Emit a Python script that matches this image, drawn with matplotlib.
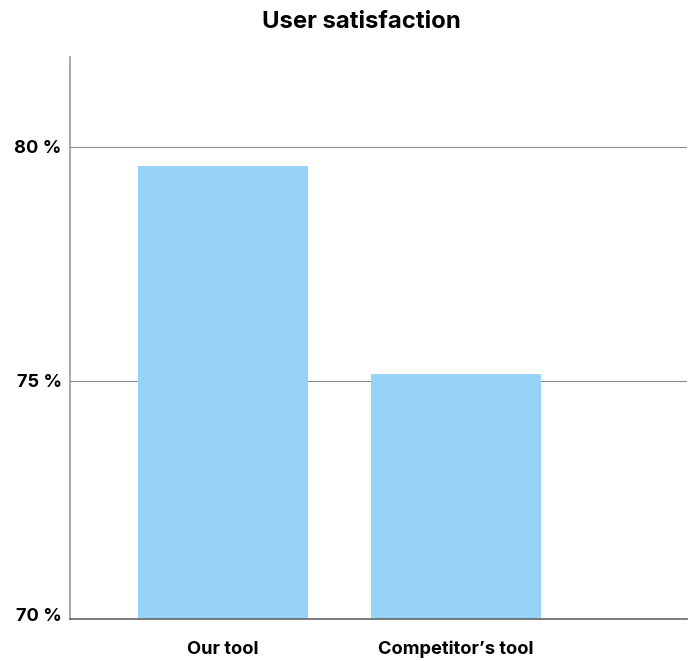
import matplotlib
matplotlib.use("Agg")
import matplotlib.pyplot as plt
from matplotlib.ticker import FuncFormatter

plt.rcParams['font.family'] = ['Inter', 'DejaVu Sans']

tools = ["Our tool", "Competitor\u2019s tool"]
satisfaction = [79.6, 75.15]
yticks = [70, 75, 80]

ymin, ymax = 69.91, 81.92

fig = plt.figure(figsize=(6.99, 6.61), dpi=100)
ax = fig.add_axes([70 / 699, 42 / 661, 617 / 699, 562 / 661])

# bars rise from the bottom of the axis
ax.bar(range(len(tools)), [v - ymin for v in satisfaction], bottom=ymin,
       width=0.73, color="#97d3f7", zorder=2)

# horizontal guides, skipping the lowest tick which sits on the axis line
for t in yticks[1:]:
    ax.axhline(t, color="#8c8c8c", linewidth=0.8, zorder=1)

ax.set_ylim(ymin, ymax)
ax.set_xlim(-0.655, 1.99)
ax.set_yticks(yticks)
ax.yaxis.set_major_formatter(FuncFormatter(lambda v, _: f"{v:.0f} %"))
ax.set_xticks(range(len(tools)))
ax.set_xticklabels(tools)
ax.tick_params(length=0, labelsize=13.2)
ax.tick_params(axis="y", pad=6)
ax.tick_params(axis="x", pad=15.5)
for lbl in ax.get_xticklabels() + ax.get_yticklabels():
    lbl.set_fontweight("bold")

for side in ("top", "right"):
    ax.spines[side].set_visible(False)
ax.spines["left"].set_color("#9a9a9a")
ax.spines["left"].set_linewidth(1.2)
ax.spines["bottom"].set_color("#666666")
ax.spines["bottom"].set_linewidth(1.2)

fig.text(361 / 699, 1 - 22 / 661, "User satisfaction", ha="center", va="center",
         fontsize=17.2, fontweight="bold")

fig.savefig("out.png", dpi=100)
